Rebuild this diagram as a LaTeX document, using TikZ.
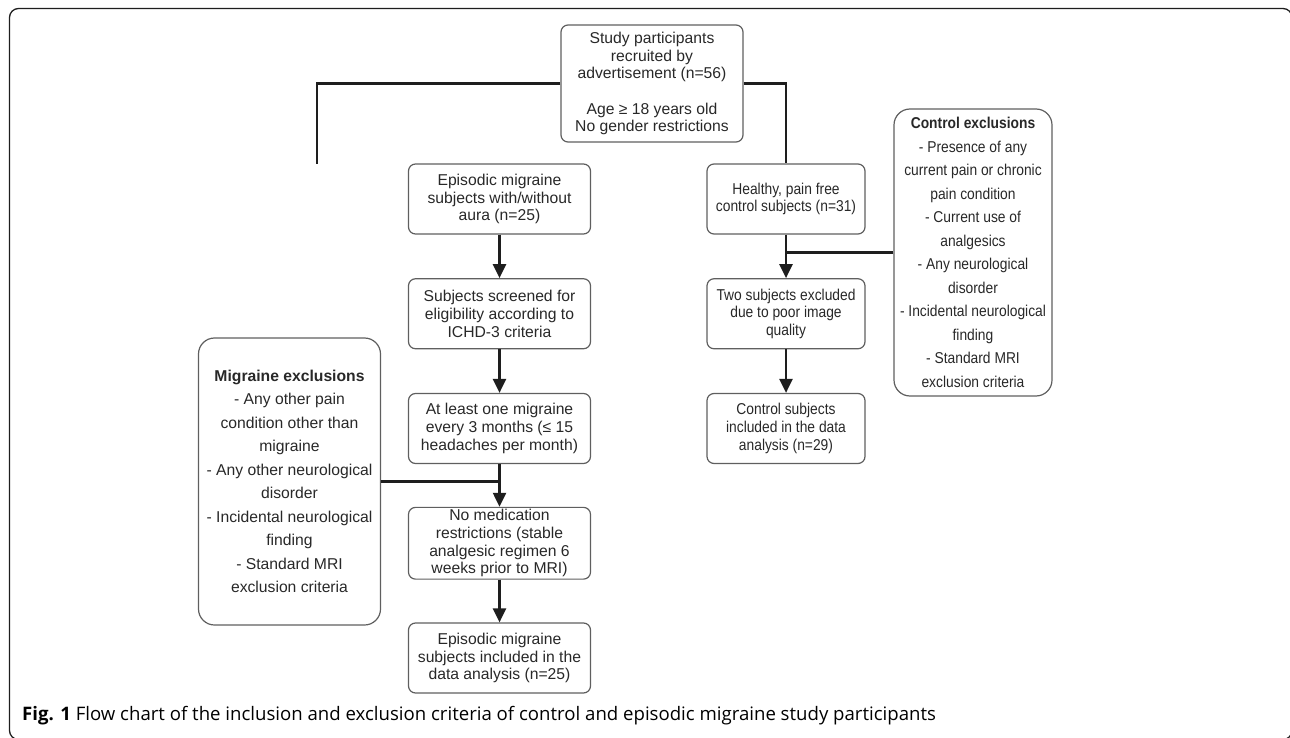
\documentclass[tikz,border=0pt]{standalone}
\usepackage{fontspec}
\setmainfont{Liberation Sans}
\newfontfamily\narrowfont[FakeStretch=0.88]{Liberation Sans}
\newfontfamily\capfont{Open Sans}
\usetikzlibrary{arrows.meta,positioning}
\definecolor{box_gray}  {RGB}{95,95,95}
\definecolor{text_gray} {RGB}{40,40,40}
\definecolor{line_dark} {RGB}{30,30,30}

\begin{document}
\begin{tikzpicture}[x=1pt, y=-1pt,
		node distance  = 114.75pt,
		flowbox/.style = {draw = box_gray,
			rectangle,
			rounded corners = 7pt,
			align          = center,
			text           = text_gray,
			font = \fontsize{15.7}{17.7}\selectfont,
			line width     = 1.2pt,
			inner sep      = 2pt,
			minimum width  = 182pt,
			minimum height = 70pt},
		ctrlbox/.style = {flowbox,
			minimum width  = 158pt,
			font = \narrowfont\fontsize{15.7}{17.7}\selectfont},
		exclbox/.style = {flowbox,
			rounded corners = 16pt,
			font = \fontsize{15.7}{23.5}\selectfont},
		link/.style    = {draw = line_dark, line width = 2.4pt},
		arrow/.style   = {link, -{Triangle[width=13pt,length=14pt]}}]
	
	\useasboundingbox (0,0) rectangle (1290,738);
	\draw[line_dark, line width=1.3pt, rounded corners=9pt] (9.5,8.5) rectangle (1292,739.5);
	
	\node[flowbox, minimum height=117pt] (recruit) at (652,83.5)
	{ Study participants \\ recruited by \\ advertisement (n=56) \\[17.7pt]
		Age ≥ 18 years old \\ No gender restrictions };
	
	% migraine column
	\node[flowbox] (episodic) at (499.5,199)
	{ Episodic migraine \\ subjects with/without \\ aura (n=25) };
	\node[flowbox] (screened) [below of=episodic]
	{ Subjects screened for \\ eligibility according to \\ ICHD-3 criteria };
	\node[flowbox] (atleast) [below of=screened]
	{ At least one migraine \\ every 3 months (≤ 15 \\ headaches per month) };
	\node[flowbox] (nomed) [below of=atleast]
	{ No medication \\ restrictions (stable \\ analgesic regimen 6 \\ weeks prior to MRI) };
	\node[flowbox] (migincl) [below of=nomed]
	{ Episodic migraine \\ subjects included in the \\ data analysis (n=25) };
	
	% control column
	\node[ctrlbox] (healthy) at (786,199)
	{ Healthy, pain free \\ control subjects (n=31) };
	\node[ctrlbox] (twoexcl) [below of=healthy]
	{ Two subjects excluded \\ due to poor image \\ quality };
	\node[ctrlbox] (ctrlincl) [below of=twoexcl]
	{ Control subjects \\ included in the data \\ analysis (n=29) };
	
	% exclusion boxes
	\node[exclbox, minimum height=287pt] (migexcl) at (289.5,481.5)
	{ \textbf{Migraine exclusions} \\ - Any other pain \\ condition other than \\ migraine \\
		- Any other neurological \\ disorder \\ - Incidental neurological \\ finding \\
		- Standard MRI \\ exclusion criteria };
	\node[exclbox, minimum width=158pt, minimum height=287pt,
		font=\narrowfont\fontsize{15.7}{23.5}\selectfont] (ctrlexcl) at (973,252.5)
	{ \textbf{Control exclusions} \\ - Presence of any \\ current pain or chronic \\ pain condition \\
		- Current use of \\ analgesics \\ - Any neurological \\ disorder \\
		- Incidental neurological \\ finding \\ - Standard MRI \\ exclusion criteria };
	
	\coordinate (ldrop) at (317,164);
	\draw[link] (recruit.west) -| (ldrop);
	\draw[link] (recruit.east) -| (healthy.north);
	
	\draw[arrow] (episodic) -- (screened);
	\draw[arrow] (screened) -- (atleast);
	\draw[arrow] (atleast)  -- (nomed);
	\draw[arrow] (nomed)    -- (migincl);
	\draw[arrow] (healthy)  -- (twoexcl);
	\draw[arrow] (twoexcl)  -- (ctrlincl);
	
	\coordinate (mjoin) at (atleast.south |- migexcl.east);
	\coordinate (cjoin) at (healthy.south |- ctrlexcl.west);
	\draw[link] (migexcl.east)  -- (mjoin);
	\draw[link] (ctrlexcl.west) -- (cjoin);
	
	\node[anchor=base west, inner sep=0, font=\capfont\fontsize{18.6}{22}\selectfont] (caption) at (22,720)
	{ \textbf{Fig. 1} Flow chart of the inclusion and exclusion criteria of control and episodic migraine study participants };
	
\end{tikzpicture}
\end{document}
